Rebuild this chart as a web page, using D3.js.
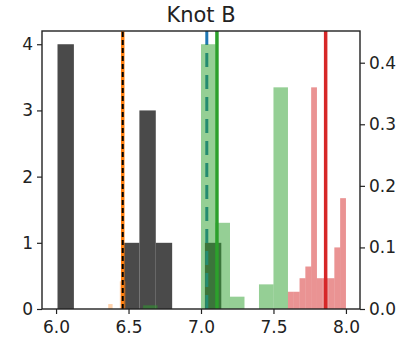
<!DOCTYPE html>
<html>
<head>
<meta charset="utf-8">
<script src="https://cdn.jsdelivr.net/npm/d3@7"></script>
<style>
    body { margin: 0; background: white; }
    text { font-family: "DejaVu Sans", sans-serif; fill: #222; }
</style>
</head>
<body>
<div id="chart"></div>
<script>
// dark histogram (counts, left axis)
darkEdges = [6.01, 6.123, 6.236, 6.349, 6.462, 6.575, 6.688, 6.801, 6.914, 7.027, 7.14];
darkCounts = [4, 0, 0, 0, 1, 3, 1, 0, 0, 1];

// fraction histograms (right axis)
orangeEdges = [6.36, 6.39, 6.42, 6.44, 6.48];
orangeValues = [0.008, 0, 0, 0.045];
greenEdges = [6.6, 6.7, 6.8, 6.9, 7.0, 7.1, 7.2, 7.3, 7.4, 7.5, 7.6];
greenValues = [0.006, 0, 0, 0, 0.43, 0.14, 0.02, 0, 0.04, 0.36];
redEdges = [7.6, 7.64, 7.68, 7.72, 7.76, 7.8, 7.84, 7.88, 7.92, 7.96, 8.0];
redValues = [0.028, 0.028, 0.05, 0.069, 0.36, 0.05, 0.05, 0.05, 0.1, 0.18];

// reference lines
lineX = [6.46, 6.46, 7.04, 7.11, 7.86];
lineNames = ["orange", "black", "blue", "green", "red"];

xTicks = [6.0, 6.5, 7.0, 7.5, 8.0];
leftTicks = [0, 1, 2, 3, 4];
rightTicks = [0.0, 0.1, 0.2, 0.3, 0.4];

function binsOf(edges, values) {
    let out = [];
    for (let i = 0; i < values.length; i++) {
        if (values[i] > 0) out.push({ x0: edges[i], x1: edges[i + 1], v: values[i] });
    }
    return out;
}

let svg = d3.select('#chart').append('svg')
    .attr('width', 406)
    .attr('height', 338);

let margin = { top: 31, right: 46, bottom: 29, left: 42 };
let W = 406, H = 338;

let x = d3.scaleLinear().domain([5.903, 8.097]).range([margin.left, W - margin.right]);
let yL = d3.scaleLinear().domain([0, 4.2]).range([H - margin.bottom, margin.top]);
let yR = d3.scaleLinear().domain([0, 0.4515]).range([H - margin.bottom, margin.top]);

let plot = svg.append('g');

// dark bars
plot.selectAll('.dark')
    .data(binsOf(darkEdges, darkCounts))
    .enter().append('rect')
    .attr('x', d => x(d.x0))
    .attr('width', d => x(d.x1) - x(d.x0))
    .attr('y', d => yL(d.v))
    .attr('height', d => yL(0) - yL(d.v))
    .attr('fill', '#4a4a4a');

// blue dashed line sits under the green bars
plot.append('line')
    .attr('x1', x(lineX[2])).attr('x2', x(lineX[2]))
    .attr('y1', yL(0)).attr('y2', margin.top)
    .attr('stroke', '#1f77b4')
    .attr('stroke-width', 3)
    .attr('stroke-dasharray', '14,8');

let histSets = [
    [orangeEdges, orangeValues, '#ff7f0e', 0.35],
    [greenEdges, greenValues, '#2ca02c', 0.5],
    [redEdges, redValues, '#d62728', 0.5]
];
histSets.forEach(function(h) {
    plot.append('g').selectAll('rect')
        .data(binsOf(h[0], h[1]))
        .enter().append('rect')
        .attr('x', d => x(d.x0))
        .attr('width', d => x(d.x1) - x(d.x0))
        .attr('y', d => yR(d.v))
        .attr('height', d => yR(0) - yR(d.v))
        .attr('fill', h[2])
        .attr('fill-opacity', h[3]);
});

// solid lines
let solid = [[lineX[0], '#ff7f0e'], [lineX[3], '#2ca02c'], [lineX[4], '#d62728']];
solid.forEach(function(s) {
    plot.append('line')
        .attr('x1', x(s[0])).attr('x2', x(s[0]))
        .attr('y1', yL(0)).attr('y2', margin.top)
        .attr('stroke', s[1])
        .attr('stroke-width', 3.5);
});
plot.append('line')
    .attr('x1', x(lineX[1])).attr('x2', x(lineX[1]))
    .attr('y1', yL(0)).attr('y2', margin.top)
    .attr('stroke', 'black')
    .attr('stroke-width', 2)
    .attr('stroke-dasharray', '5,3');

// axes
let xAxis = svg.append('g')
    .attr('transform', `translate(0,${H - margin.bottom})`)
    .call(d3.axisBottom(x).tickValues(xTicks).tickFormat(d3.format('.1f')).tickSize(5).tickPadding(7));
let lAxis = svg.append('g')
    .attr('transform', `translate(${margin.left},0)`)
    .call(d3.axisLeft(yL).tickValues(leftTicks).tickFormat(d3.format('d')).tickSize(5).tickPadding(4));
let rAxis = svg.append('g')
    .attr('transform', `translate(${W - margin.right},0)`)
    .call(d3.axisRight(yR).tickValues(rightTicks).tickFormat(d3.format('.1f')).tickSize(5).tickPadding(4));

[xAxis, lAxis, rAxis].forEach(function(a) {
    a.select('.domain').remove();
    a.selectAll('.tick line').attr('stroke', '#222').attr('stroke-width', 1.2);
    a.selectAll('.tick text').style('font-size', '17px').attr('fill', '#222');
});

// frame
svg.append('rect')
    .attr('x', margin.left)
    .attr('y', margin.top)
    .attr('width', W - margin.left - margin.right)
    .attr('height', H - margin.top - margin.bottom)
    .attr('fill', 'none')
    .attr('stroke', '#222')
    .attr('stroke-width', 1.4);

// title
svg.append('text')
    .attr('x', 201)
    .attr('y', 22)
    .attr('text-anchor', 'middle')
    .style('font-size', '21px')
    .text('Knot B');
</script>
</body>
</html>
